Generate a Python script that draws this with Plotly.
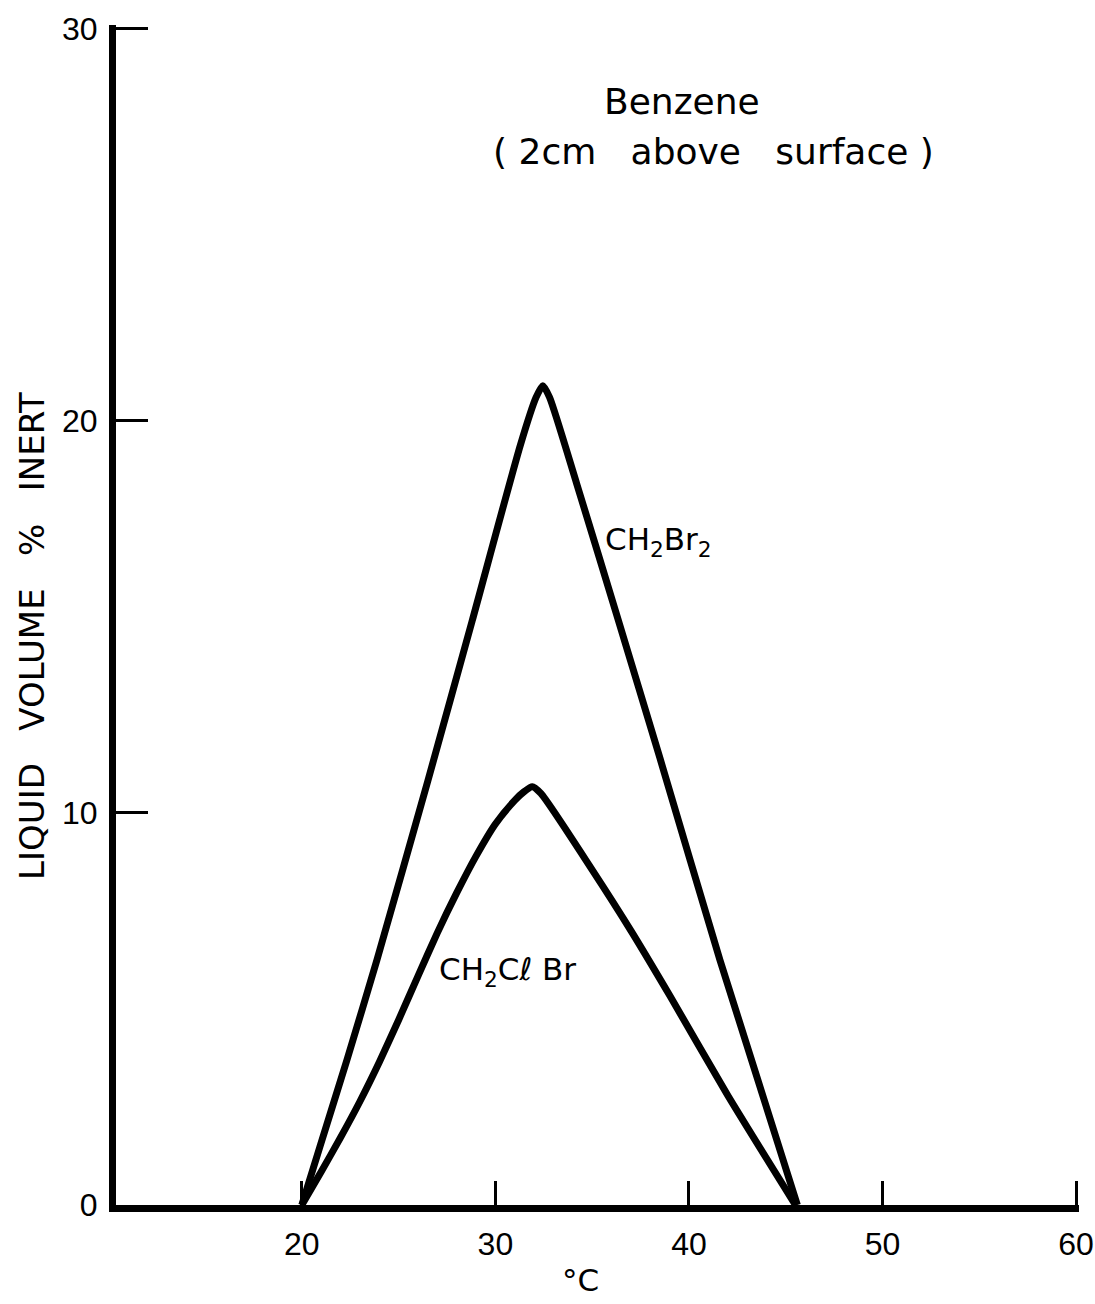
import plotly.graph_objects as go

# CH2Br2 curve (upper)
ch2br2_temp = [20.0, 20.93, 22.33, 23.88, 26.5, 28.8, 31.3, 32.1, 32.45, 32.8, 34.2, 36.3, 38.5, 41.6, 45.6]
ch2br2_vol = [0.0, 1.48, 3.7, 6.25, 10.8, 14.9, 19.4, 20.6, 20.9, 20.6, 18.4, 15.0, 11.4, 6.25, 0.0]

# CH2ClBr curve (lower)
ch2clbr_temp = [20.0, 21.0, 22.0, 23.0, 24.0, 25.0, 26.0, 27.0, 28.0, 29.0, 30.0, 31.0, 31.5, 31.9,
                32.35, 35.0, 37.0, 39.0, 42.0, 45.5]
ch2clbr_vol = [0.0, 0.85, 1.72, 2.64, 3.64, 4.72, 5.84, 6.94, 7.96, 8.9, 9.72, 10.32, 10.55, 10.67,
               10.5, 8.55, 7.0, 5.35, 2.8, 0.0]

x_ticks = [20, 30, 40, 50, 60]
y_ticks = [0, 10, 20, 30]

FONT = "DejaVu Sans"
TICK_FONT = "Liberation Sans"
PXX = 960 / 49.6   # pixels per degree
PXY = 1176 / 30.0  # pixels per % unit
X0, X1 = 10.4, 60.15
Y0, Y1 = 0, 30.1
L, B = 116, 1205
R = L + (X1 - X0) * PXX
T = B - (Y1 - Y0) * PXY

fig = go.Figure()
for xs, ys in [(ch2br2_temp, ch2br2_vol), (ch2clbr_temp, ch2clbr_vol)]:
    fig.add_trace(go.Scatter(x=xs, y=ys, mode="lines",
                             line=dict(color="black", width=7, shape="spline", smoothing=0.6),
                             showlegend=False, hoverinfo="skip", cliponaxis=False))

fig.update_layout(
    width=1095, height=1304,
    margin=dict(l=L, r=1095 - R, t=T, b=1304 - B, autoexpand=False),
    paper_bgcolor="white", plot_bgcolor="white",
    font=dict(family=FONT, color="black"),
    xaxis=dict(range=[X0, X1], tickvals=x_ticks, ticks="inside", ticklen=24, tickwidth=3,
               tickcolor="black", showline=True, linewidth=7, linecolor="black",
               showgrid=False, zeroline=False, automargin=False,
               tickfont=dict(size=32, family=TICK_FONT, color="black"), ticklabelstandoff=5),
    yaxis=dict(range=[Y0, Y1], tickvals=y_ticks, ticks="inside", ticklen=32, tickwidth=3,
               tickcolor="black", showline=True, linewidth=7, linecolor="black",
               showgrid=False, zeroline=False, automargin=False,
               tickfont=dict(size=32, family=TICK_FONT, color="black"), ticklabelstandoff=5),
)


def px(xp):
    return (xp - L) / (R - L)


def py(yp):
    return (B - yp) / (B - T)


NB = "\u00a0"
annots = [
    dict(x=580, y=1280, text="°C", size=31, anchor="center"),
    dict(x=682, y=102, text="Benzene", size=36, anchor="center"),
    dict(x=713, y=152, text="(" + NB + "2cm" + NB * 3 + "above" + NB * 3 + "surface" + NB + ")",
         size=36, anchor="center"),
    dict(x=603, y=542, text="CH<sub>2</sub>Br<sub>2</sub>", size=31, anchor="left"),
    dict(x=437, y=972, text="CH<sub>2</sub>C\u2113" + NB + "Br", size=31, anchor="left"),
]
for a in annots:
    fig.add_annotation(x=px(a["x"]), y=py(a["y"]), xref="paper", yref="paper",
                       xanchor=a["anchor"], yanchor="middle", showarrow=False, text=a["text"],
                       font=dict(size=a["size"], family=FONT, color="black"))

# y-axis title
fig.add_annotation(x=px(32), y=py(636), xref="paper", yref="paper", textangle=-90,
                   xanchor="center", yanchor="middle", showarrow=False,
                   text="LIQUID" + NB * 3 + "VOLUME" + NB * 3 + "%" + NB * 3 + "INERT",
                   font=dict(size=34, family=FONT, color="black"))

fig.write_html("out.html")
